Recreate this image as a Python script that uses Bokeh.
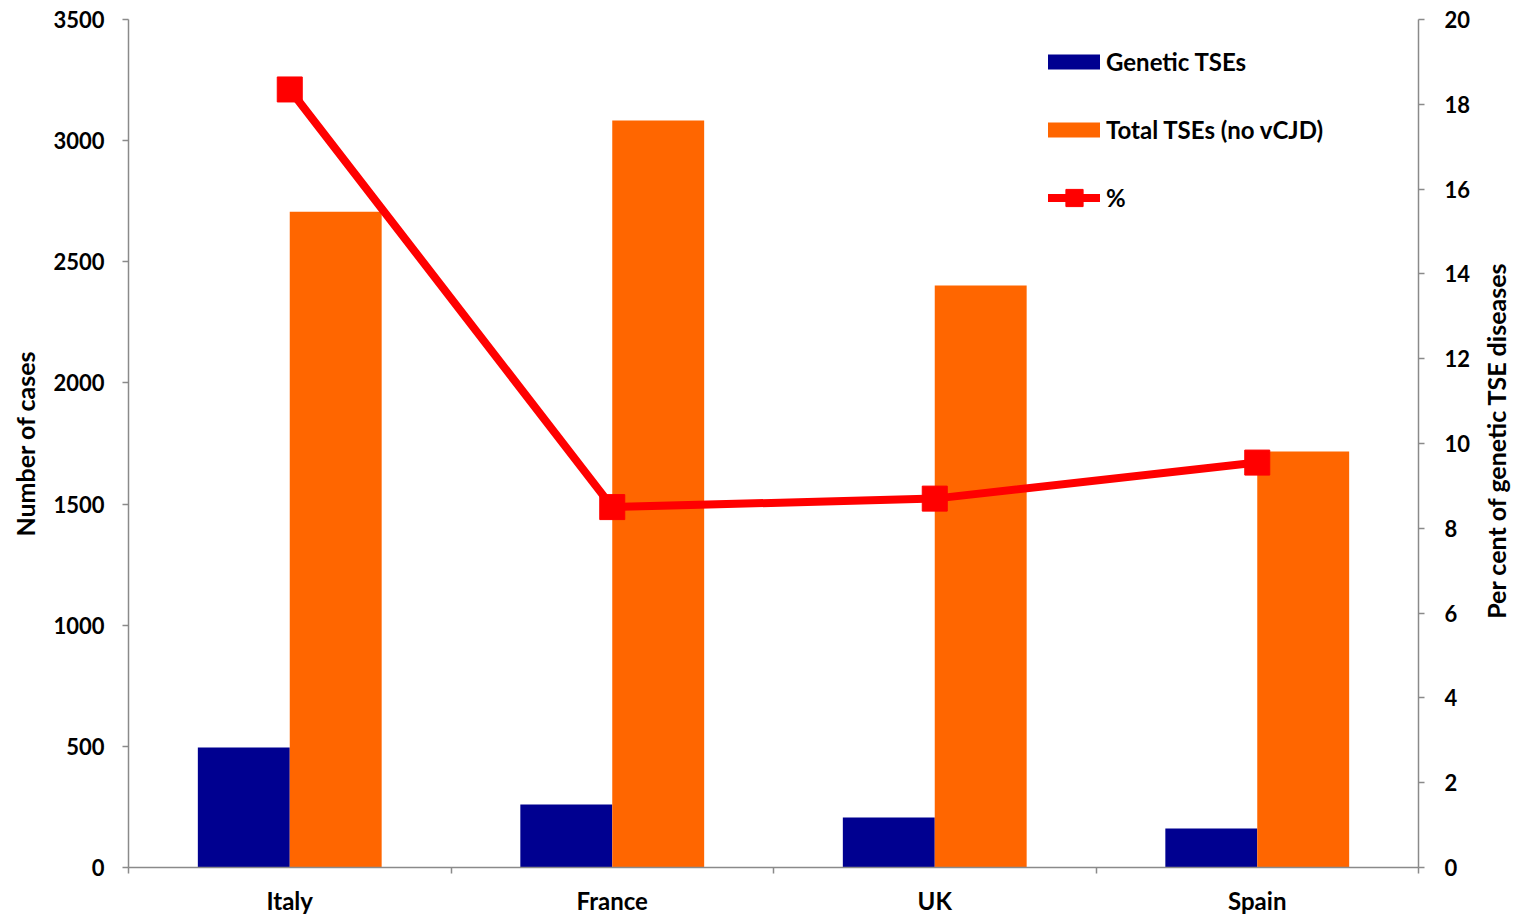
import math

from bokeh.plotting import figure
from bokeh.layouts import row
from bokeh.models import (ColumnDataSource, Range1d, LinearAxis, Label,
                          FixedTicker, Legend, LegendItem)
from bokeh.transform import dodge
from bokeh.embed import file_html
from bokeh.resources import INLINE

# Cases of transmissible spongiform encephalopathies by country
countries = ["Italy", "France", "UK", "Spain"]
genetic_tses = [495, 260, 206, 161]
total_tses = [2707, 3083, 2402, 1717]
percent_genetic = [18.35, 8.5, 8.7, 9.55]

cases_ticks = list(range(0, 3501, 500))
percent_ticks = list(range(0, 21, 2))

FONT = "Lato"
AXIS_GREY = "#8a8a8a"
NAVY = "#000090"
ORANGE = "#FF6600"
RED = "#FF0000"

TOTAL_W, TOTAL_H = 1517, 917
STRIP_W = 37          # narrow strip on the right holding the right axis title

# each country occupies one unit-wide slot; its name sits in the slot middle
slots = [i + 0.5 for i in range(len(countries))]
src = ColumnDataSource(dict(slot=slots, country=countries, genetic=genetic_tses,
                            total=total_tses, pct=percent_genetic))

p = figure(width=TOTAL_W - STRIP_W, height=TOTAL_H,
           x_range=Range1d(0, len(countries)),
           y_range=Range1d(cases_ticks[0], cases_ticks[-1]),
           x_axis_location=None, y_axis_location=None,
           output_backend="svg", toolbar_location=None,
           min_border_left=128, min_border_right=62,
           min_border_top=19, min_border_bottom=50)
p.outline_line_color = None
p.xgrid.visible = False
p.ygrid.visible = False
p.background_fill_color = "white"
p.border_fill_color = "white"

p.extra_y_ranges = {"pct": Range1d(percent_ticks[0], percent_ticks[-1])}


def style_axis(ax, tick_size="22px"):
    ax.axis_line_color = AXIS_GREY
    ax.axis_line_width = 1.5
    ax.major_tick_line_color = AXIS_GREY
    ax.major_tick_line_width = 1.5
    ax.minor_tick_line_color = AXIS_GREY
    ax.minor_tick_line_width = 1.5
    ax.major_tick_in = 0
    ax.minor_tick_in = 0
    ax.major_label_text_font = FONT
    ax.major_label_text_font_style = "bold"
    ax.major_label_text_font_size = tick_size
    ax.major_label_text_color = "black"
    ax.axis_label_text_font = FONT
    ax.axis_label_text_font_style = "bold"
    ax.axis_label_text_font_size = "25px"
    ax.axis_label_text_color = "black"


# category axis: names in the middle of each slot, tick marks on slot edges
xaxis = LinearAxis(ticker=FixedTicker(ticks=slots,
                                      minor_ticks=list(range(len(countries) + 1))),
                   major_label_overrides={s: name for s, name in zip(slots, countries)})
style_axis(xaxis, "24px")
xaxis.major_tick_out = 0
xaxis.minor_tick_out = 6
xaxis.major_label_standoff = 12
p.add_layout(xaxis, "below")

yleft = LinearAxis(ticker=FixedTicker(ticks=cases_ticks, minor_ticks=[]),
                   axis_label="Number of cases")
style_axis(yleft)
yleft.major_tick_out = 6
yleft.major_label_standoff = 18
yleft.axis_label_standoff = 10
p.add_layout(yleft, "left")

yright = LinearAxis(y_range_name="pct",
                    ticker=FixedTicker(ticks=percent_ticks, minor_ticks=[]))
style_axis(yright)
yright.major_tick_out = 6
yright.major_label_standoff = 20
p.add_layout(yright, "right")

bar_w = 0.285
r_gen = p.vbar(x=dodge("slot", -bar_w / 2), top="genetic",
               width=bar_w, source=src, fill_color=NAVY, line_color=None)
r_tot = p.vbar(x=dodge("slot", bar_w / 2), top="total",
               width=bar_w, source=src, fill_color=ORANGE, line_color=None)

r_line = p.line(x="slot", y="pct", source=src, y_range_name="pct",
                line_color=RED, line_width=8, line_join="round", line_cap="round")
r_pts = p.scatter(x="slot", y="pct", source=src, y_range_name="pct",
                  marker="square", size=25, fill_color=RED, line_color=RED)

legend_style = dict(orientation="vertical", label_height=30, padding=0, margin=0,
                    border_line_color=None, background_fill_alpha=0,
                    label_text_font=FONT, label_text_font_style="bold",
                    label_text_font_size="24px", label_text_color="black")

bar_legend = Legend(items=[LegendItem(label="Genetic TSEs", renderers=[r_gen]),
                           LegendItem(label="Total TSEs (no vCJD)", renderers=[r_tot])],
                    location=(913, 723), glyph_width=65, glyph_height=19,
                    label_standoff=0, spacing=38, **legend_style)
p.add_layout(bar_legend)

# taller glyph box so the square marker shows above the thick line
line_legend = Legend(items=[LegendItem(label="%", renderers=[r_line, r_pts])],
                     location=(920, 648), glyph_width=52, glyph_height=43,
                     label_standoff=6, spacing=0, **legend_style)
p.add_layout(line_legend)

# right-hand axis title, reading bottom to top like the left one
strip = figure(width=STRIP_W, height=TOTAL_H,
               x_range=Range1d(0, STRIP_W), y_range=Range1d(0, TOTAL_H),
               x_axis_location=None, y_axis_location=None,
               output_backend="svg", toolbar_location=None,
               min_border_left=0, min_border_right=0,
               min_border_top=0, min_border_bottom=0)
strip.outline_line_color = None
strip.xgrid.visible = False
strip.ygrid.visible = False
strip.background_fill_color = "white"
strip.border_fill_color = "white"
strip.add_layout(Label(x=15, y=TOTAL_H - 455, angle=math.pi / 2,
                       text="Per cent of genetic TSE diseases",
                       text_align="center", text_baseline="middle",
                       text_font=FONT, text_font_style="bold",
                       text_font_size="25px", text_color="black"))

layout = row(p, strip, spacing=0)

open("out.html", "w").write(file_html(layout, INLINE))
